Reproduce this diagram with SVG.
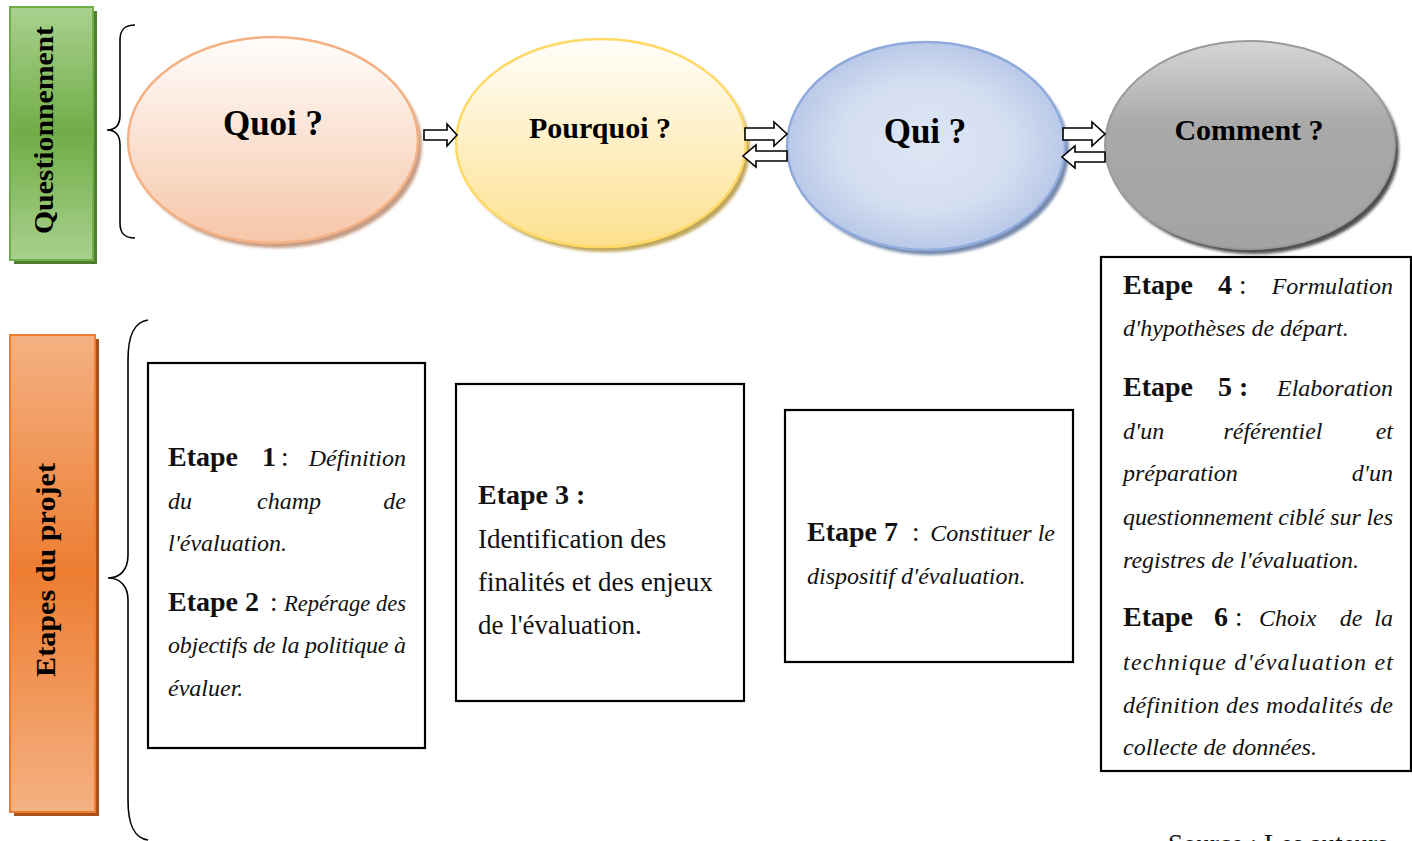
<svg xmlns="http://www.w3.org/2000/svg" width="1412" height="841" viewBox="0 0 1412 841">
  <defs>
    <linearGradient id="gGreen" x1="0" y1="0" x2="0" y2="1">
      <stop offset="0" stop-color="#a9d18e"/>
      <stop offset="0.5" stop-color="#70ad47"/>
      <stop offset="1" stop-color="#a9d18e"/>
    </linearGradient>
    <linearGradient id="gOrange" x1="0" y1="0" x2="0" y2="1">
      <stop offset="0" stop-color="#f4b183"/>
      <stop offset="0.5" stop-color="#ed7d31"/>
      <stop offset="1" stop-color="#f4b183"/>
    </linearGradient>
    <linearGradient id="gQuoi" x1="0" y1="0" x2="0" y2="1">
      <stop offset="0" stop-color="#fffdfc"/>
      <stop offset="1" stop-color="#f6c6a8"/>
    </linearGradient>
    <linearGradient id="gPourquoi" x1="0" y1="0" x2="0" y2="1">
      <stop offset="0" stop-color="#fffefa"/>
      <stop offset="1" stop-color="#fde08e"/>
    </linearGradient>
    <radialGradient id="gQui" cx="0.5" cy="0.5" r="0.7" gradientTransform="rotate(-35 0.5 0.5)">
      <stop offset="0" stop-color="#dde6f4"/>
      <stop offset="0.45" stop-color="#d4def1"/>
      <stop offset="1" stop-color="#9cb2de"/>
    </radialGradient>
    <linearGradient id="gComment" x1="0" y1="0" x2="0" y2="1">
      <stop offset="0" stop-color="#d6d6d6"/>
      <stop offset="0.4" stop-color="#a9a9a9"/>
      <stop offset="1" stop-color="#a3a3a3"/>
    </linearGradient>
    <filter id="soft" x="-10%" y="-10%" width="120%" height="120%">
      <feGaussianBlur stdDeviation="1.5"/>
    </filter>
  </defs>
  <style>
    .title { font-family: "Liberation Serif", "DejaVu Serif", serif; font-weight: bold; fill: #000; }
    .b { font-family: "Liberation Serif", "DejaVu Serif", serif; font-weight: bold; font-size: 28px; fill: #111; }
    .r { font-family: "Liberation Serif", "DejaVu Serif", serif; font-size: 27px; fill: #111; }
    .i { font-family: "Liberation Serif", "DejaVu Serif", serif; font-style: italic; font-size: 24px; fill: #111; }
    .box { fill: #fff; stroke: #000; stroke-width: 2.2; }
    .brace { fill: none; stroke: #000; stroke-width: 1.6; }
    .arrow { fill: #fff; stroke: #000; stroke-width: 1.6; stroke-linejoin: miter; }
  </style>

  <rect width="1412" height="841" fill="#fff"/>

  <!-- Side label: Questionnement -->
  <g id="label-questionnement">
    <rect x="14" y="11" width="83" height="253" fill="#4f7f30"/>
    <rect x="10" y="7" width="83" height="253" fill="url(#gGreen)" stroke="#6fae47" stroke-width="2"/>
    <text class="title" font-size="28" transform="translate(53,130) rotate(-90)" text-anchor="middle" textLength="208" lengthAdjust="spacingAndGlyphs">Questionnement</text>
  </g>

  <!-- Side label: Etapes du projet -->
  <g id="label-etapes">
    <rect x="14" y="339" width="85" height="477" fill="#a9521a"/>
    <rect x="10" y="335" width="85" height="477" fill="url(#gOrange)" stroke="#ed7d31" stroke-width="2"/>
    <text class="title" font-size="28" transform="translate(55,570) rotate(-90)" text-anchor="middle" textLength="214" lengthAdjust="spacingAndGlyphs">Etapes du projet</text>
  </g>

  <!-- Braces -->
  <g id="braces">
    <path class="brace" d="M135,25 C124,25 120,30 120,40 L120,115 C120,125 115,130 107,130 C115,130 120,135 120,145 L120,223 C120,233 124,238 135,238"/>
    <path class="brace" d="M148,320 C134,322 128,335 128,360 L128,555 C128,570 120,578 108,578 C120,578 128,586 128,600 L128,800 C128,825 134,838 148,840"/>
  </g>

  <!-- Question ellipses -->
  <g id="node-quoi">
    <ellipse cx="277" cy="145" rx="145" ry="103" fill="#c49b84" filter="url(#soft)"/>
    <ellipse cx="273" cy="140" rx="145" ry="103" fill="url(#gQuoi)" stroke="#f4b183" stroke-width="2.5"/>
    <text class="title" font-size="35" x="273" y="135" text-anchor="middle">Quoi ?</text>
  </g>

  <g id="node-pourquoi">
    <ellipse cx="605" cy="148" rx="145" ry="104" fill="#bfa65c" filter="url(#soft)"/>
    <ellipse cx="601" cy="143" rx="145" ry="104" fill="url(#gPourquoi)" stroke="#ffd966" stroke-width="2.5"/>
    <text class="title" font-size="30" x="600" y="138" text-anchor="middle">Pourquoi ?</text>
  </g>

  <g id="node-qui">
    <ellipse cx="930" cy="151" rx="139" ry="104" fill="#7689aa" filter="url(#soft)"/>
    <ellipse cx="926" cy="146" rx="139" ry="104" fill="url(#gQui)" stroke="#8faadc" stroke-width="2.5"/>
    <text class="title" font-size="35" x="925" y="143" text-anchor="middle">Qui ?</text>
  </g>

  <g id="node-comment">
    <ellipse cx="1254" cy="150" rx="145" ry="104" fill="#505050" filter="url(#soft)"/>
    <ellipse cx="1250" cy="145" rx="145" ry="104" fill="url(#gComment)" stroke="#9a9a9a" stroke-width="2"/>
    <text class="title" font-size="30" x="1249" y="140" text-anchor="middle">Comment ?</text>
  </g>

  <!-- Block arrows between the questions -->
  <g id="connectors">
    <!-- Quoi -> Pourquoi -->
    <path class="arrow" d="M424,130 L447,130 L447,124 L457,135 L447,146 L447,140 L424,140 Z"/>
    <!-- Pourquoi <-> Qui -->
    <path class="arrow" d="M745,128 L774,128 L774,122 L787,134 L774,146 L774,140 L745,140 Z"/>
    <path class="arrow" d="M787,151 L756,151 L756,145 L743,156 L756,167 L756,161 L787,161 Z"/>
    <!-- Qui <-> Comment -->
    <path class="arrow" d="M1063,128 L1092,128 L1092,122 L1105,134 L1092,146 L1092,140 L1063,140 Z"/>
    <path class="arrow" d="M1105,152 L1075,152 L1075,146 L1062,157 L1075,168 L1075,162 L1105,162 Z"/>
  </g>

  <!-- Step boxes -->
  <g id="box-etapes-1-2">
    <rect class="box" x="148" y="363" width="277" height="385"/>
    <text class="b" x="168" y="466">Etape</text>
    <text class="b" x="262" y="466">1</text>
    <text class="r" x="281" y="466">:</text>
    <text class="i" x="406" y="466" text-anchor="end">Définition</text>
    <text class="i" x="168" y="509">du</text>
    <text class="i" x="289" y="509" text-anchor="middle">champ</text>
    <text class="i" x="406" y="509" text-anchor="end">de</text>
    <text class="i" x="168" y="551">l'évaluation.</text>
    <text class="b" x="168" y="611">Etape 2</text>
    <text class="r" x="270" y="611">:</text>
    <text class="i" x="284" y="611" textLength="122" lengthAdjust="spacingAndGlyphs">Repérage des</text>
    <text class="i" x="168" y="653" textLength="238" lengthAdjust="spacing">objectifs de la politique à</text>
    <text class="i" x="168" y="696">évaluer.</text>
  </g>

  <g id="box-etape-3">
    <rect class="box" x="456" y="384" width="288" height="317"/>
    <text class="b" x="478" y="504">Etape 3 :</text>
    <text class="r" x="478" y="548">Identification des</text>
    <text class="r" x="478" y="591">finalités et des enjeux</text>
    <text class="r" x="478" y="634">de l'évaluation.</text>
  </g>

  <g id="box-etape-7">
    <rect class="box" x="785" y="410" width="288" height="252"/>
    <text class="b" x="807" y="541">Etape 7</text>
    <text class="r" x="912" y="541">:</text>
    <text class="i" x="1055" y="541" text-anchor="end">Constituer le</text>
    <text class="i" x="807" y="584">dispositif d'évaluation.</text>
  </g>

  <g id="box-etapes-4-6">
    <rect class="box" x="1101" y="257" width="310" height="514"/>
    <text class="b" x="1123" y="294">Etape</text>
    <text class="b" x="1218" y="294">4</text>
    <text class="r" x="1239" y="294">:</text>
    <text class="i" x="1393" y="294" text-anchor="end">Formulation</text>
    <text class="i" x="1123" y="336">d'hypothèses de départ.</text>

    <text class="b" x="1123" y="396">Etape</text>
    <text class="b" x="1218" y="396">5 :</text>
    <text class="i" x="1393" y="396" text-anchor="end">Elaboration</text>
    <text class="i" x="1123" y="439">d'un</text>
    <text class="i" x="1273" y="439" text-anchor="middle">référentiel</text>
    <text class="i" x="1393" y="439" text-anchor="end">et</text>
    <text class="i" x="1123" y="481">préparation</text>
    <text class="i" x="1393" y="481" text-anchor="end">d'un</text>
    <text class="i" x="1123" y="525" textLength="270" lengthAdjust="spacing">questionnement ciblé sur les</text>
    <text class="i" x="1123" y="568">registres de l'évaluation.</text>

    <text class="b" x="1123" y="626">Etape</text>
    <text class="b" x="1214" y="626">6</text>
    <text class="r" x="1235" y="626">:</text>
    <text class="i" x="1259" y="626">Choix</text>
    <text class="i" x="1351" y="626" text-anchor="middle">de</text>
    <text class="i" x="1393" y="626" text-anchor="end">la</text>
    <text class="i" x="1123" y="670" textLength="270" lengthAdjust="spacing">technique d'évaluation et</text>
    <text class="i" x="1123" y="713" textLength="270" lengthAdjust="spacing">définition des modalités de</text>
    <text class="i" x="1123" y="755">collecte de données.</text>
  </g>

  <!-- Source line, running off the bottom edge -->
  <text class="r" font-size="22" x="1168" y="853">Source : Les auteurs</text>
</svg>
